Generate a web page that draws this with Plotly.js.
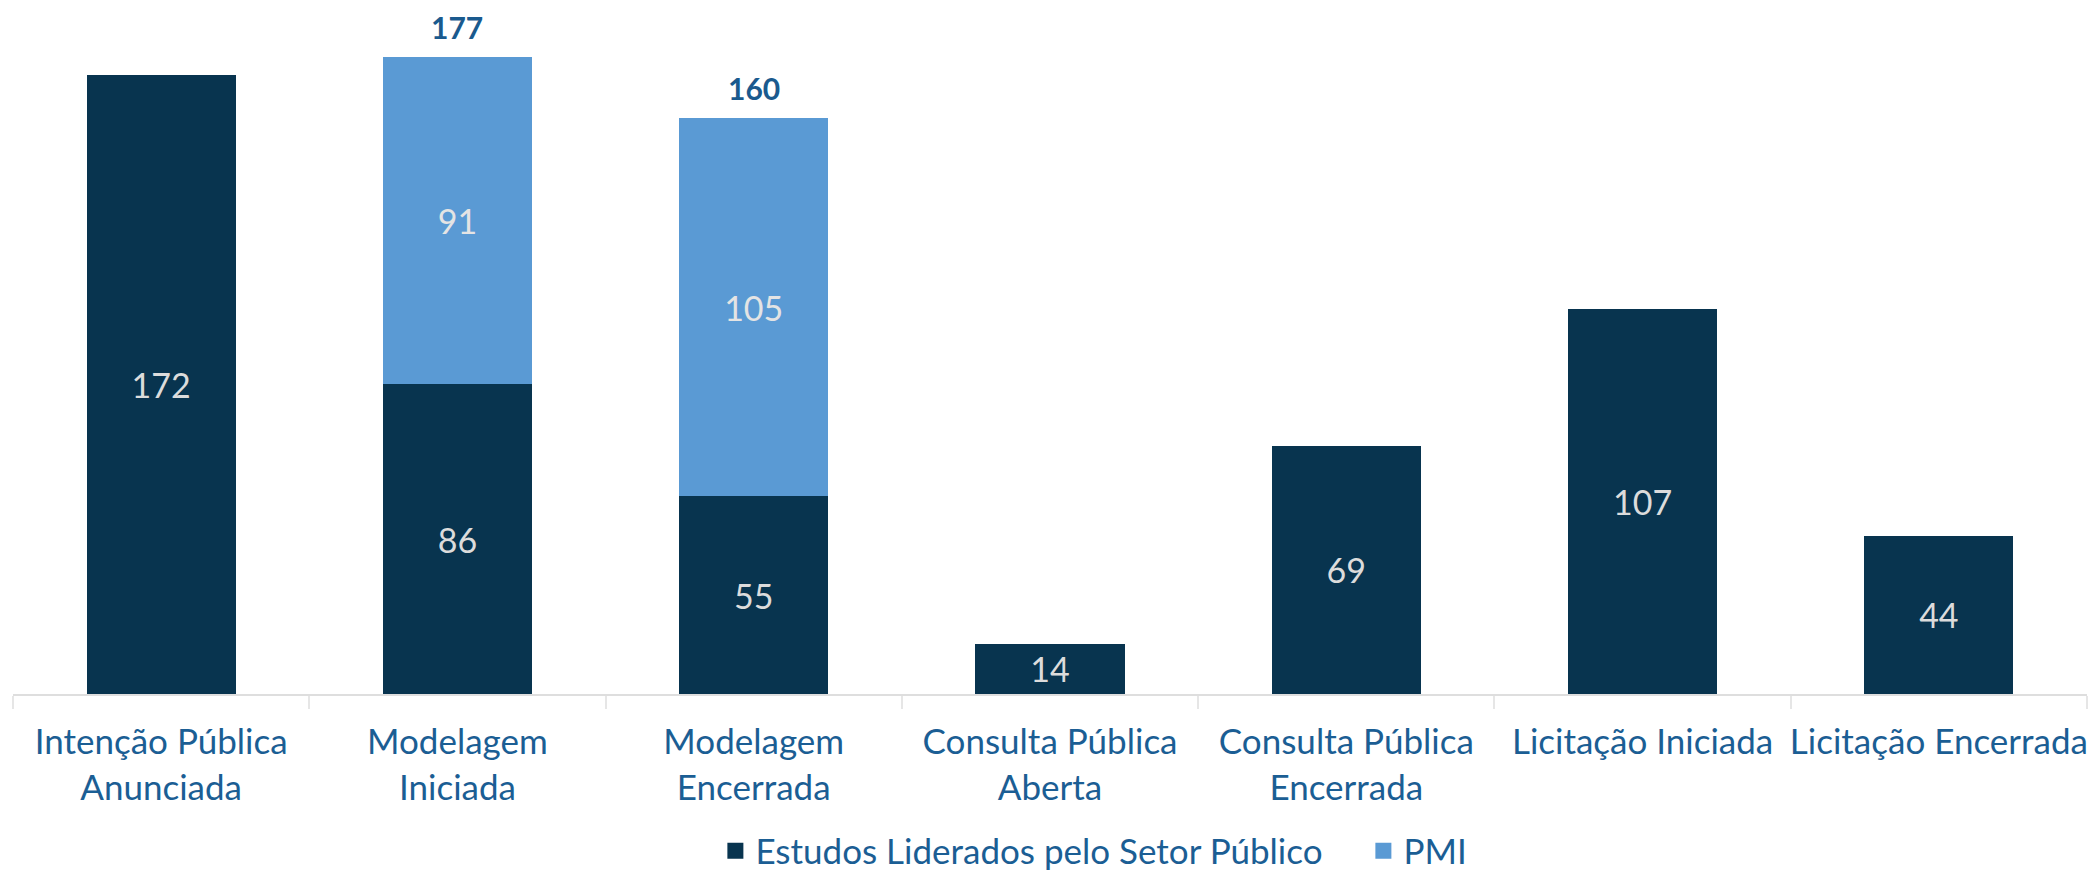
<!DOCTYPE html>
<html>
<head>
<meta charset="utf-8">
<script src="https://cdn.plot.ly/plotly-3.0.1.min.js"></script>
<style>html,body{margin:0;padding:0;background:#fff;}#chart{width:2090px;height:870px;}</style>
</head>
<body>
<div id="chart"></div>
<script>
const categories = [
  "Intenção Pública<br>Anunciada",
  "Modelagem<br>Iniciada",
  "Modelagem<br>Encerrada",
  "Consulta Pública<br>Aberta",
  "Consulta Pública<br>Encerrada",
  "Licitação Iniciada",
  "Licitação Encerrada"
];
const seriesNames = ["Estudos Liderados pelo Setor Público", "PMI"];
const publicSector = [172, 86, 55, 14, 69, 107, 44];
const pmi = [null, 91, 105, null, null, null, null];
const totalCats = ["Modelagem<br>Iniciada", "Modelagem<br>Encerrada"];
const totals = [177, 160];

const FONT = "Lato, 'Open Sans', sans-serif";
const darkBlue = "#08344f";
const pmiBlue = "#5a9ad4";
const labelBlue = "#1b5e94";

const traces = [
  {
    type: "bar", name: seriesNames[0], showlegend: false,
    x: categories, y: publicSector,
    marker: {color: darkBlue},
    text: publicSector.map(v => v == null ? "" : String(v)),
    textposition: "inside", insidetextanchor: "middle", constraintext: "none",
    textfont: {family: FONT, size: 34, color: "#dcdcdc"},
    hoverinfo: "none"
  },
  {
    type: "bar", name: seriesNames[1], showlegend: false,
    x: categories, y: pmi,
    marker: {color: pmiBlue},
    text: pmi.map(v => v == null ? "" : String(v)),
    textposition: "inside", insidetextanchor: "middle", constraintext: "none",
    textfont: {family: FONT, size: 34, color: "#e4e4e4"},
    hoverinfo: "none"
  },
  // legend entries (no points drawn)
  {
    type: "scatter", mode: "markers", name: seriesNames[0],
    x: [categories[0]], y: [null],
    marker: {symbol: "square", size: 17, color: darkBlue}, hoverinfo: "none"
  },
  {
    type: "scatter", mode: "markers", name: seriesNames[1],
    x: [categories[0]], y: [null],
    marker: {symbol: "square", size: 17, color: pmiBlue}, hoverinfo: "none"
  }
];

const annotations = totals.map((v, i) => ({
  x: totalCats[i], y: v, xref: "x", yref: "y",
  text: "<b>" + v + "</b>", showarrow: false,
  yanchor: "bottom", yshift: 10,
  font: {family: FONT, size: 30, color: "#1a5a8e"}
}));

const layout = {
  width: 2090, height: 870,
  margin: {l: 13, r: 3, t: 37, b: 176, autoexpand: false},
  paper_bgcolor: "#ffffff", plot_bgcolor: "#ffffff",
  barmode: "stack", bargap: 0.497,
  font: {family: FONT, size: 35, color: labelBlue},
  annotations: annotations,
  xaxis: {
    type: "category", categoryorder: "array", categoryarray: categories,
    automargin: false, tickangle: 0,
    showline: true, linecolor: "#dedede", linewidth: 2,
    ticks: "outside", tickson: "boundaries", ticklen: 13, tickcolor: "#e6e6e6", tickwidth: 2,
    ticklabelstandoff: 16,
    tickfont: {family: FONT, size: 35, color: labelBlue},
    showgrid: false, zeroline: false, fixedrange: true
  },
  yaxis: {
    range: [0, 182.5], visible: false, showgrid: false, zeroline: false, fixedrange: true, automargin: false
  },
  showlegend: true,
  legend: {
    orientation: "h", x: 0.6511, xanchor: "center", y: -0.239, yanchor: "middle",
    font: {family: FONT, size: 35, color: labelBlue},
    traceorder: "normal", itemclick: false, itemdoubleclick: false,
    itemwidth: 30, entrywidth: 603, entrywidthmode: "pixels"
  }
};

Plotly.newPlot("chart", traces, layout, {staticPlot: true, displayModeBar: false});
</script>
</body>
</html>
